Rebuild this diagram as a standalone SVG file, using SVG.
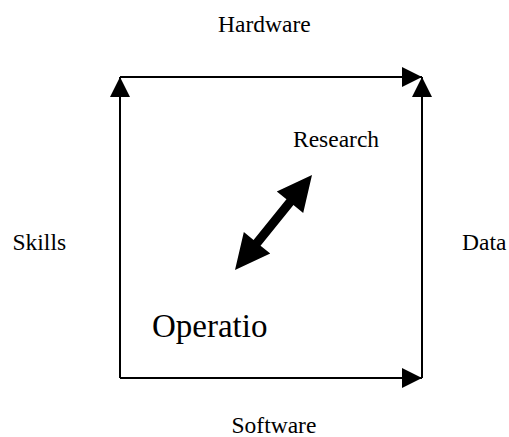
<svg xmlns="http://www.w3.org/2000/svg" width="509" height="437" viewBox="0 0 509 437">
  <style>
    .lbl { font-family: "Liberation Serif", "Times New Roman", serif; font-size: 23.5px; fill: #000; }
    .big { font-size: 33px; }
    .edge { stroke: #000; stroke-width: 2; fill: none; marker-end: url(#head); }
  </style>
  <defs>
    <marker id="head" markerUnits="userSpaceOnUse" markerWidth="20" markerHeight="20" refX="20" refY="10" orient="auto" viewBox="0 0 20 20">
      <path d="M0,0 L20,10 L0,20 Z" fill="#000"/>
    </marker>
  </defs>

  <g id="connectors">
    <line class="edge" x1="120" y1="378" x2="120" y2="77"/>
    <line class="edge" x1="120" y1="77" x2="422" y2="77"/>
    <line class="edge" x1="422" y1="378" x2="422" y2="77"/>
    <line class="edge" x1="120" y1="378" x2="422" y2="378"/>
    <!-- two-headed arrow between Operatio and Research -->
    <polygon fill="#000" points="312,175 303.2,212.9 293.46,205.02 260.54,245.64 270.24,253.51 235,270 243.84,232.11 253.54,239.98 286.46,199.36 276.8,191.5"/>
  </g>

  <g id="hardware"><text class="lbl" x="218" y="31.5">Hardware</text></g>
  <g id="research"><text class="lbl" x="293" y="147">Research</text></g>
  <g id="skills"><text class="lbl" x="12.5" y="250">Skills</text></g>
  <g id="data"><text class="lbl" x="462" y="250">Data</text></g>
  <g id="operatio"><text class="lbl big" x="152" y="337">Operatio</text></g>
  <g id="software"><text class="lbl" x="231.5" y="433">Software</text></g>
</svg>
